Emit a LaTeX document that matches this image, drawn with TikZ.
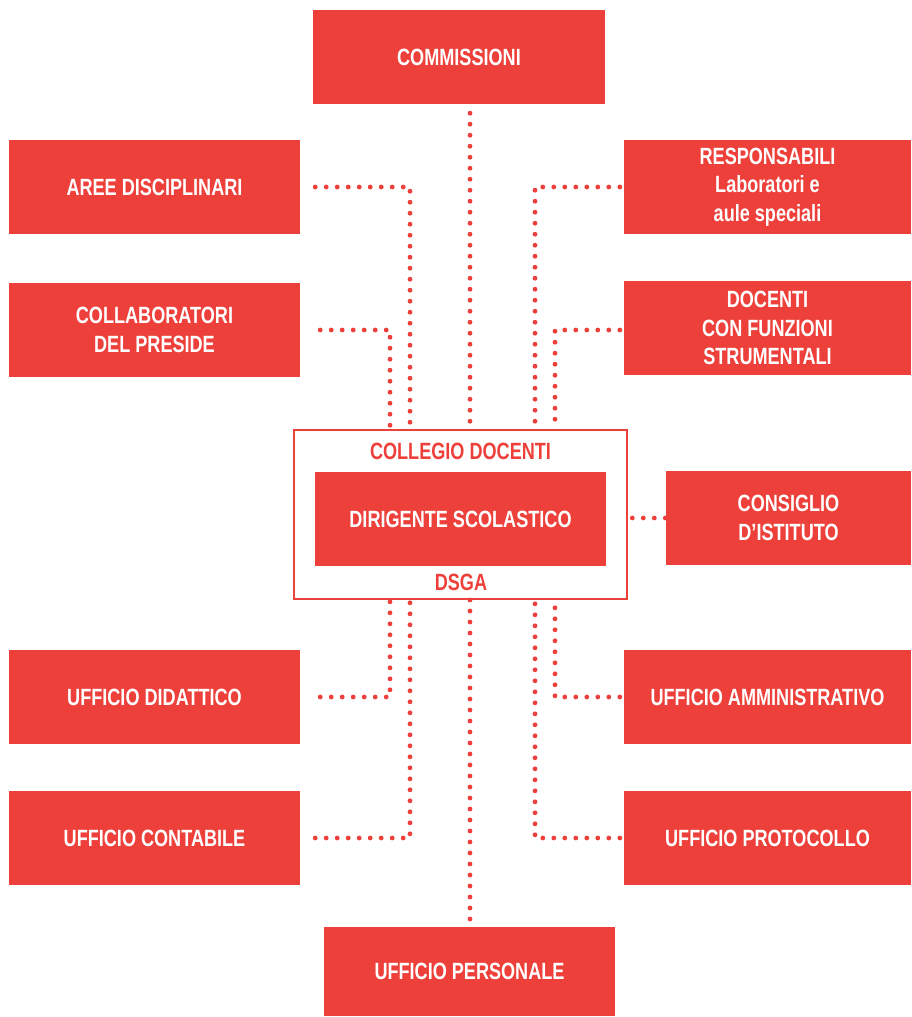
\documentclass[tikz,border=0pt]{standalone}
\usepackage{fontspec}
\setmainfont{Liberation Sans}[FakeStretch=0.77]
\definecolor{rd}{HTML}{EE403A}
\begin{document}
\begin{tikzpicture}[x=1pt,y=-1pt,
  box/.style={fill=rd,draw=none,text=white,align=center,inner sep=0pt,
    font=\fontsize{23.5}{28.5}\selectfont\bfseries,minimum height=94pt},
  dots/.style={draw=rd,line width=4.8pt,line cap=round,dash pattern=on 0pt off 11pt},
  lbl/.style={text=rd,font=\fontsize{23.5}{25}\selectfont\bfseries,inner sep=0pt}]
\useasboundingbox (0,0) rectangle (911,1017);
\node[box,minimum width=292pt] (comm) at (459,57) {COMMISSIONI};
\node[box,minimum width=291pt] (aree) at (154.5,187) {AREE DISCIPLINARI};
\node[box,minimum width=287pt] (resp) at (767.5,187) {RESPONSABILI\\Laboratori e\\aule speciali};
\node[box,minimum width=291pt] (coll) at (154.5,330) {COLLABORATORI\\DEL PRESIDE};
\node[box,minimum width=287pt] (doc) at (767.5,328) {DOCENTI\\CON FUNZIONI\\STRUMENTALI};
\node[draw=rd,line width=2pt,minimum width=333pt,minimum height=169pt,inner sep=0pt] (frame) at (460.5,514.5) {};
\node[box,minimum width=291pt] (dir) at (460.5,519) {DIRIGENTE SCOLASTICO};
\node[lbl] (coldoc) at (460.5,451) {COLLEGIO DOCENTI};
\node[lbl] (dsga) at (461,582) {DSGA};
\node[box,minimum width=245pt] (cons) at (788.5,518) {CONSIGLIO\\D’ISTITUTO};
\node[box,minimum width=291pt] (udid) at (154.5,697) {UFFICIO DIDATTICO};
\node[box,minimum width=287pt] (uamm) at (767.5,697) {UFFICIO AMMINISTRATIVO};
\node[box,minimum width=291pt] (ucont) at (154.5,838) {UFFICIO CONTABILE};
\node[box,minimum width=287pt] (uprot) at (767.5,838) {UFFICIO PROTOCOLLO};
\node[box,minimum width=291pt,minimum height=89pt] (upers) at (469.5,971.5) {UFFICIO PERSONALE};
\coordinate (c0) at (470,0);
\coordinate (l1) at (390,0);
\coordinate (l2) at (410,0);
\coordinate (r1) at (535,0);
\coordinate (r2) at (555,0);
% top
\draw[dots] (comm.south -| c0) ++(0,9) -- (frame.north -| c0);
\draw[dots] ([xshift=15pt]aree.east) -| (frame.north -| l2);
\draw[dots] ([xshift=20pt]coll.east) -| (frame.north -| l1);
\draw[dots] ([xshift=-4pt]resp.west) -| (frame.north -| r1);
\draw[dots] ([xshift=-4pt]doc.west |- coll.east) -| (frame.north -| r2);
\draw[dots] ([xshift=-0.5pt]cons.west) -- ([xshift=2.5pt]frame.east |- cons.west);
% bottom
\draw[dots] ([xshift=20pt]udid.east) -| (frame.south -| l1);
\draw[dots] ([xshift=15pt]ucont.east) -| (frame.south -| l2);
\draw[dots] ([xshift=-4pt]uamm.west) -| (frame.south -| r2);
\draw[dots] ([xshift=-4pt]uprot.west) -| (frame.south -| r1);
\draw[dots] (frame.south -| c0) -- ([yshift=-3pt]upers.north -| c0);
\end{tikzpicture}
\end{document}
